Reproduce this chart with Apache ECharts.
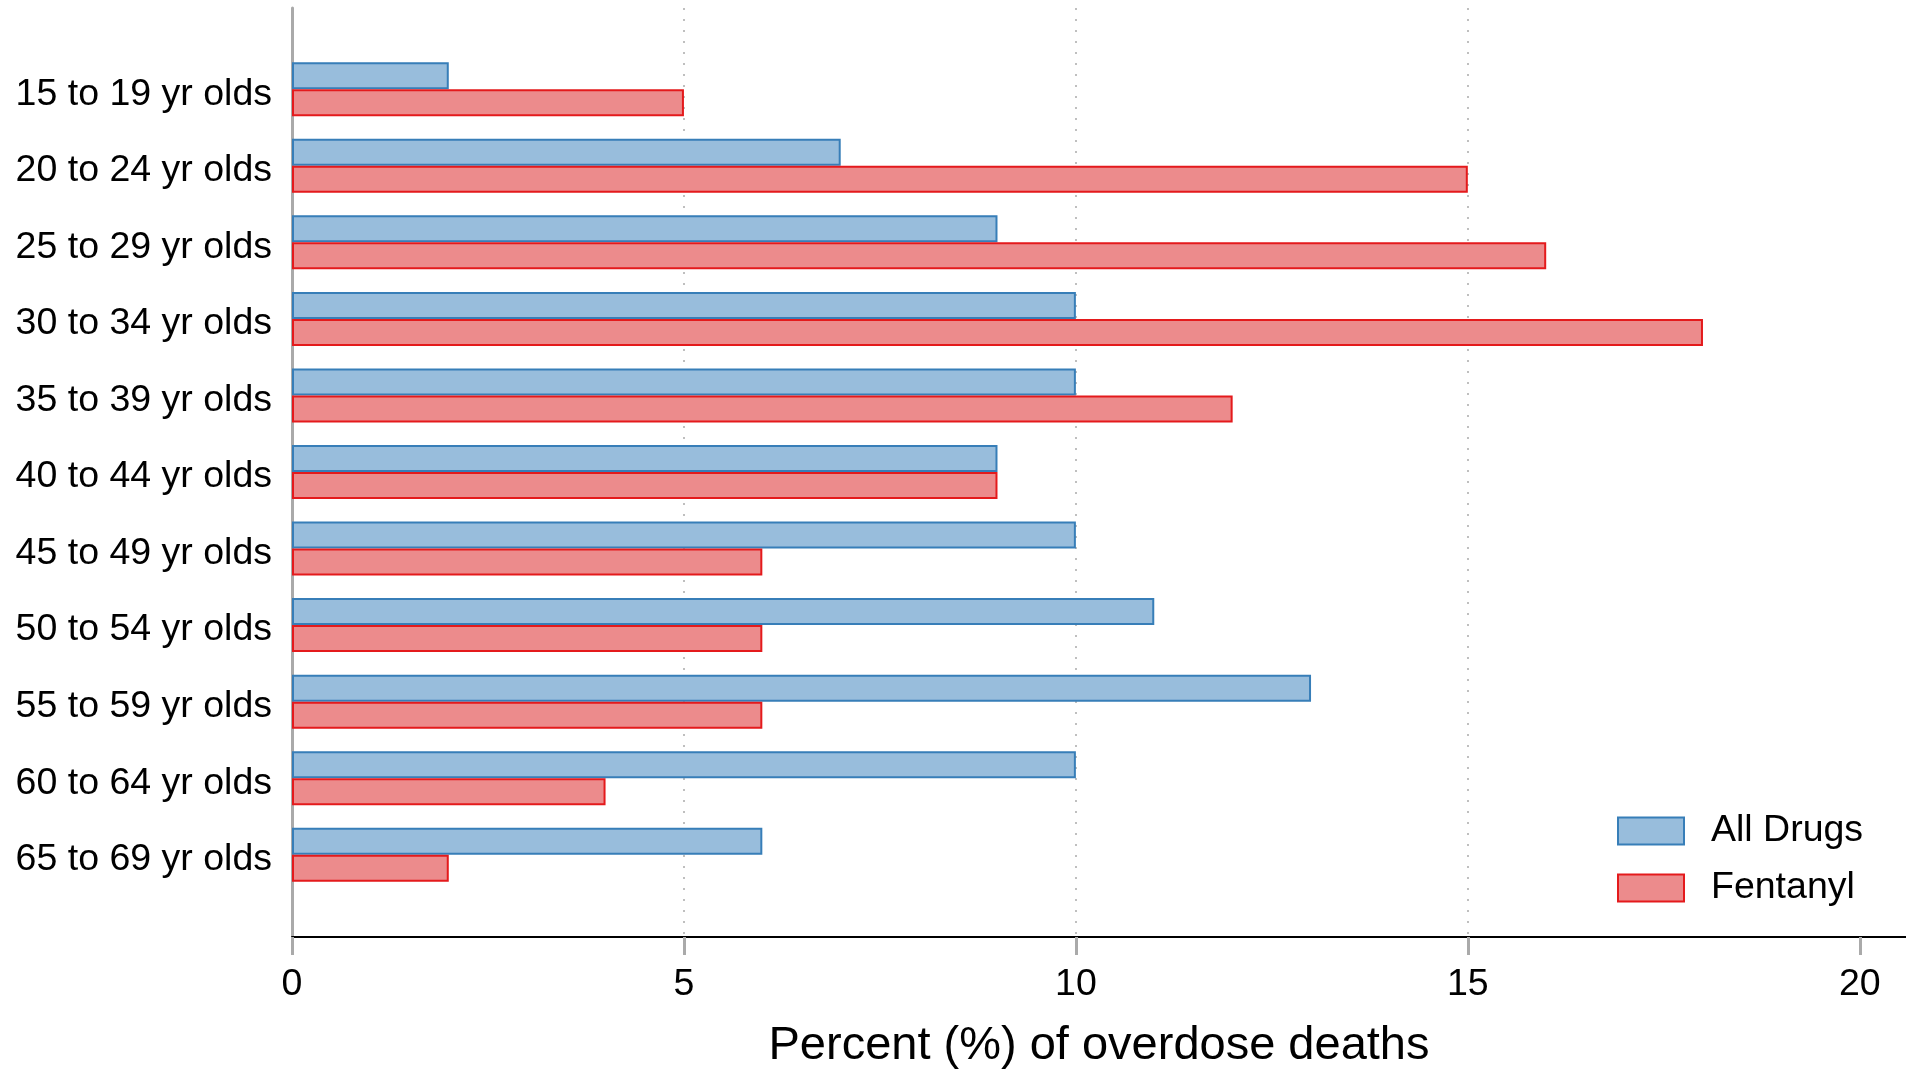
<!DOCTYPE html>
<html>
<head>
<meta charset="utf-8">
<script src="https://cdn.jsdelivr.net/npm/echarts@6/dist/echarts.min.js"></script>
<style>
html,body{margin:0;padding:0;background:#fff;}
#chart{width:1906px;height:1070px;}
</style>
</head>
<body>
<div id="chart"></div>
<script>
const categories = ['15 to 19 yr olds','20 to 24 yr olds','25 to 29 yr olds','30 to 34 yr olds','35 to 39 yr olds','40 to 44 yr olds','45 to 49 yr olds','50 to 54 yr olds','55 to 59 yr olds','60 to 64 yr olds','65 to 69 yr olds'];
const allDrugs = [2,7,9,10,10,9,10,11,13,10,6];
const fentanyl = [5,15,16,18,12,9,6,6,6,4,2];
const xTicks = [0,5,10,15,20];
const seriesNames = ['All Drugs','Fentanyl'];

const FONT = '"Liberation Sans", Arial, Helvetica, sans-serif';
const chart = echarts.init(document.getElementById('chart'), null, {renderer:'canvas'});
const XMAX = 20.59;
chart.setOption({
  animation:false,
  backgroundColor:'#ffffff',
  textStyle:{fontFamily:FONT},
  grid:[
    {left:292, right:0, top:51, height:842, containLabel:false, outerBoundsMode:'none'},
    {left:292, right:0, top:8, bottom:133, containLabel:false, outerBoundsMode:'none'}
  ],
  xAxis:[
    {gridIndex:0, type:'value', min:0, max:XMAX, show:false},
    {gridIndex:1, type:'value', min:0, max:XMAX, interval:5, position:'bottom',
      name:'Percent (%) of overdose deaths', nameLocation:'middle', nameGap:86,
      nameTextStyle:{fontSize:47, color:'#000', fontFamily:FONT},
      axisLine:{show:true, lineStyle:{color:'#000', width:2}},
      axisTick:{show:true, length:18, customValues:xTicks, lineStyle:{color:'#aaaaaa', width:3}},
      axisLabel:{show:true, customValues:xTicks, fontSize:37.5, color:'#000', margin:29, fontFamily:FONT},
      splitLine:{show:true, showMinLine:false, showMaxLine:false, lineStyle:{color:'#aaaaaa', width:1.5, type:[2,9]}}
    }
  ],
  yAxis:[
    {gridIndex:0, type:'category', data:categories, inverse:true,
      axisLine:{show:false}, axisTick:{show:false},
      axisLabel:{color:'#000', margin:20, fontFamily:FONT,
        formatter:'{v|{value}}',
        rich:{v:{fontSize:37.5, color:'#000', fontFamily:FONT, padding:[10,0,0,0]}}},
      splitLine:{show:false}
    },
    {gridIndex:1, type:'value', min:0, max:1,
      axisLine:{show:true, lineStyle:{color:'#aaaaaa', width:3}},
      axisTick:{show:false}, axisLabel:{show:false}, splitLine:{show:false}
    }
  ],
  legend:{
    orient:'vertical', left:1607, top:794, icon:'rect',
    padding:[18,10,22,10], backgroundColor:'#ffffff',
    itemWidth:66, itemHeight:27, itemGap:19,
    textStyle:{fontSize:37.5, color:'#000', fontFamily:FONT, padding:[0,0,0,22]},
    data:seriesNames
  },
  series:[
    {name:seriesNames[0], type:'bar', xAxisIndex:0, yAxisIndex:0, data:allDrugs,
      barWidth:27, barGap:'0%',
      itemStyle:{color:'#98bddc', borderColor:'#377eb8', borderWidth:2}},
    {name:seriesNames[1], type:'bar', xAxisIndex:0, yAxisIndex:0, data:fentanyl,
      barWidth:27, barGap:'0%',
      itemStyle:{color:'#ec8b8c', borderColor:'#e41a1c', borderWidth:2}}
  ]
});
</script>
</body>
</html>
